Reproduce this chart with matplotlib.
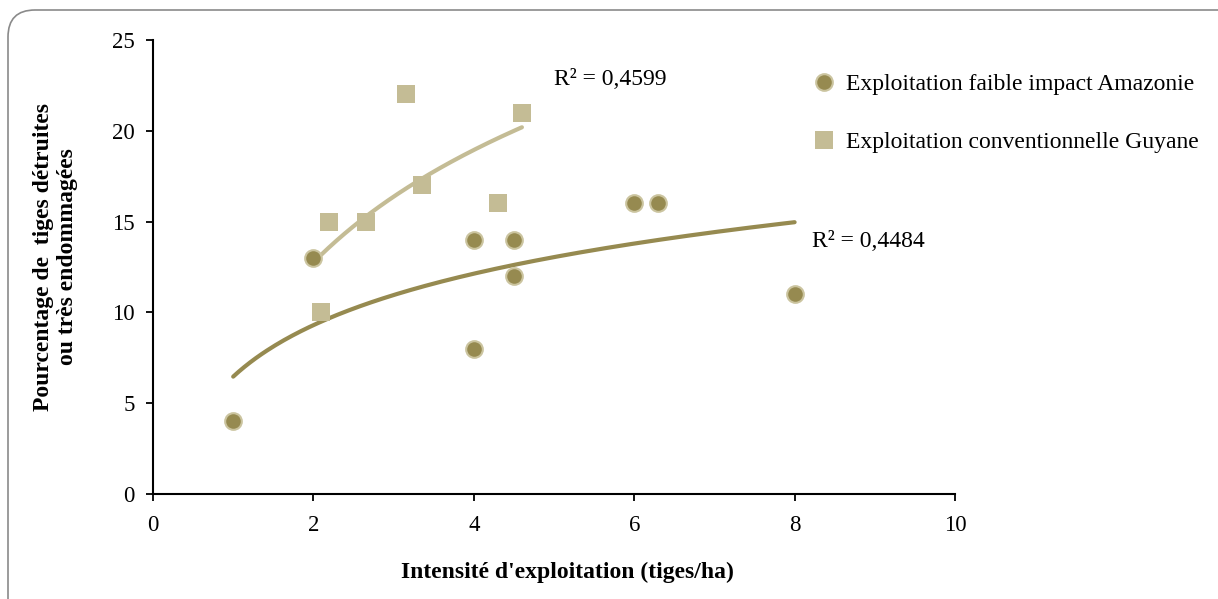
import numpy as np
import matplotlib.pyplot as plt
from matplotlib.patches import FancyBboxPatch

# Données
amaz_x = [1, 2, 4, 4, 4.5, 4.5, 6, 6.3, 8]
amaz_y = [4, 13, 14, 8, 14, 12, 16, 16, 11]
guy_x = [2.1, 2.2, 2.65, 3.15, 3.35, 4.3, 4.6]
guy_y = [10, 15, 15, 22, 17, 16, 21]
amaz_r2 = "R² = 0,4484"
guy_r2 = "R² = 0,4599"

c_amaz = '#968a50'
c_amaz_edge = '#cbc49f'
c_guy = '#c4bc95'

plt.rcParams['font.family'] = ['Liberation Serif', 'DejaVu Serif']

fig = plt.figure(figsize=(12.18, 5.99), dpi=100)
ax = fig.add_axes([153/1218, 1-494/599, (955-153)/1218, (494-40)/599])

# cadre arrondi (en pouces)
frame = FancyBboxPatch((0.08, -1.0), 13.0, 5.89 + 1.0,
                       boxstyle="round,pad=0,rounding_size=0.27",
                       transform=fig.dpi_scale_trans, fill=False,
                       edgecolor='#8a8a8a', linewidth=1.2)
fig.patches.append(frame)

# courbes de tendance logarithmiques
def log_fit(xs, ys):
    b, a = np.polyfit(np.log(xs), ys, 1)
    xx = np.linspace(min(xs), max(xs), 200)
    return xx, a + b*np.log(xx)

xx, yy = log_fit(amaz_x, amaz_y)
ax.plot(xx, yy, color=c_amaz, lw=3, solid_capstyle='round', zorder=2)
xx, yy = log_fit(guy_x, guy_y)
ax.plot(xx, yy, color=c_guy, lw=3, solid_capstyle='round', zorder=2)

ax.plot(amaz_x, amaz_y, 'o', ms=12, color=c_amaz, mec=c_amaz_edge, mew=1.5,
        label='Exploitation faible impact Amazonie', zorder=3)
ax.plot(guy_x, guy_y, 's', ms=13, color=c_guy, mec=c_guy, mew=0,
        label='Exploitation conventionnelle Guyane', zorder=3)

ax.text(5.0, 22.85, guy_r2, fontsize=17, va='center', ha='left')
ax.text(8.22, 13.93, amaz_r2, fontsize=17, va='center', ha='left')

ax.set_xlim(0, 10)
ax.set_ylim(0, 25)
ax.set_xticks([0, 2, 4, 6, 8, 10])
ax.set_yticks([0, 5, 10, 15, 20, 25])
for s in ['top', 'right']:
    ax.spines[s].set_visible(False)
for s in ['left', 'bottom']:
    ax.spines[s].set_linewidth(1.5)
ax.tick_params(direction='out', length=5, width=1.3, labelsize=16.5)
ax.tick_params(axis='x', pad=10)
ax.tick_params(axis='y', pad=8)

ax.set_xlabel("Intensité d'exploitation (tiges/ha)", fontsize=17, fontweight='bold')
ax.xaxis.set_label_coords(0.517, -0.150)
ax.set_ylabel("Pourcentage de  tiges détruites\nou très endommagées", fontsize=17,
              fontweight='bold', linespacing=1.2)
ax.yaxis.set_label_coords(-0.093, 0.522)

fig.legend(loc='upper left', bbox_to_anchor=(800/1218, 1-64/599), frameon=False,
           fontsize=17, labelspacing=1.55, handletextpad=0.35, handlelength=1.2,
           borderaxespad=0)

fig.savefig('out.png', dpi=100)
